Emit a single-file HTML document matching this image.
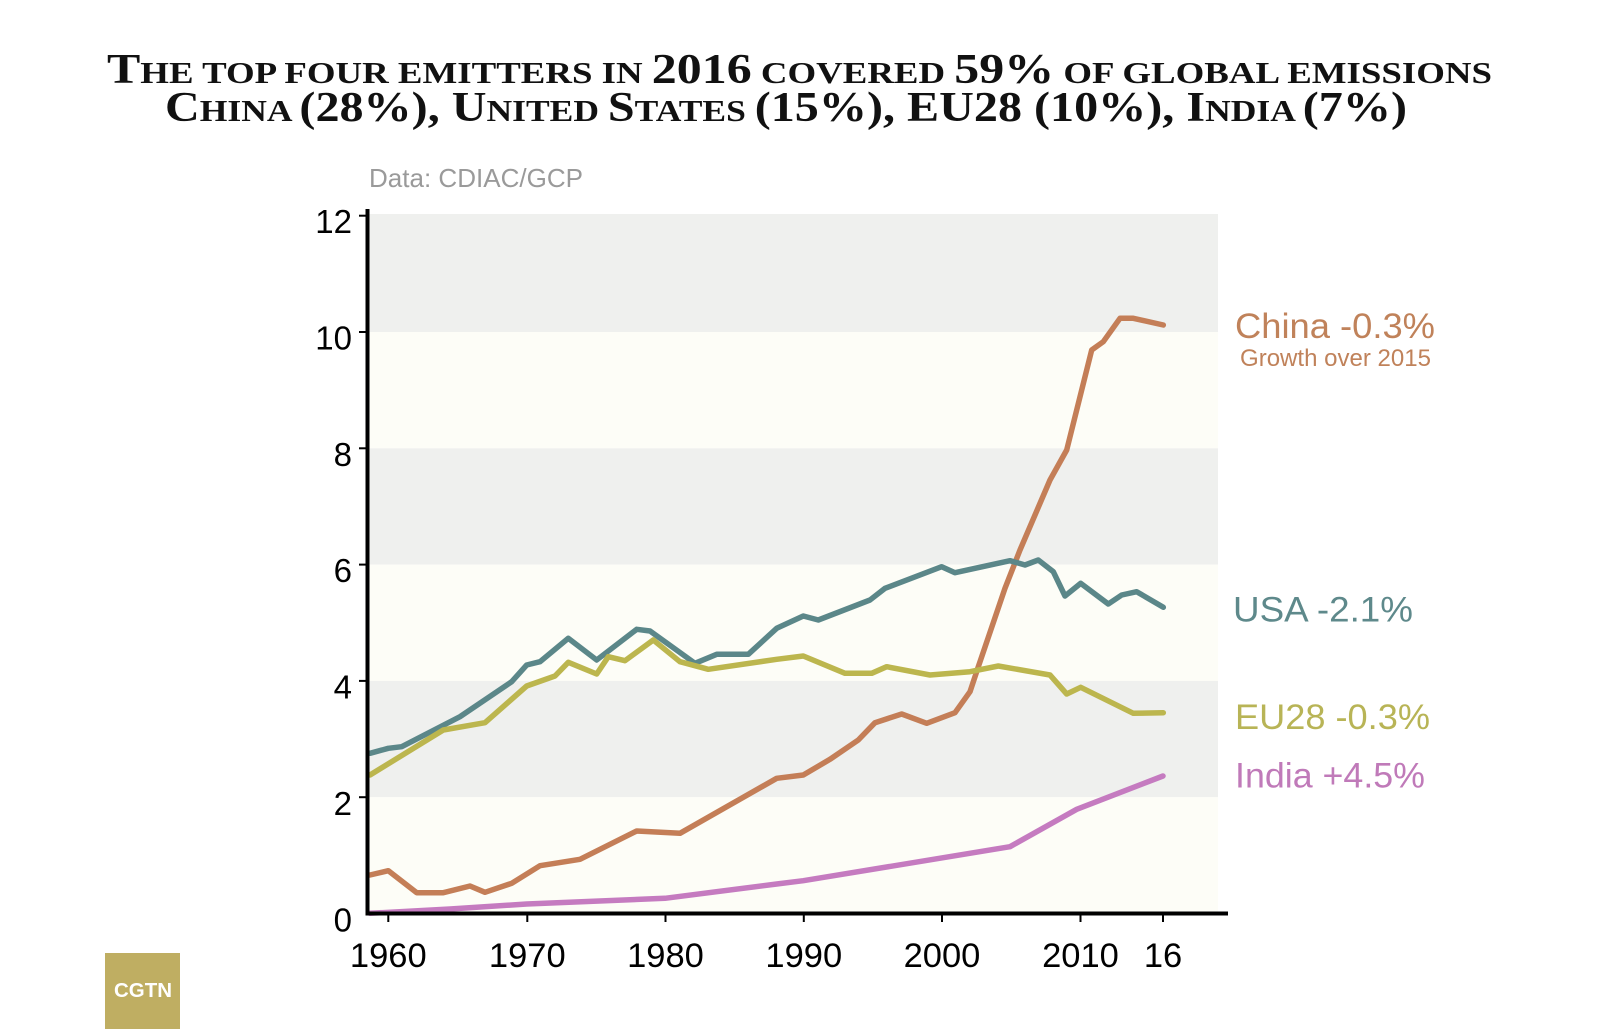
<!DOCTYPE html>
<html>
<head>
<meta charset="utf-8">
<style>
  html, body { margin:0; padding:0; background:#ffffff; }
  body { width:1600px; height:1029px; overflow:hidden; }
  svg { display:block; }
  .sans { font-family: "Liberation Sans", Arial, sans-serif; }
  .serif { font-family: "Liberation Serif", "Times New Roman", serif; font-weight:bold; }
</style>
</head>
<body>
<svg width="1600" height="1029" viewBox="0 0 1600 1029" xmlns="http://www.w3.org/2000/svg">
  <rect x="0" y="0" width="1600" height="1029" fill="#ffffff"/>

  <!-- Title -->
  <text class="serif" x="107" y="83" fill="#111" textLength="1385" lengthAdjust="spacingAndGlyphs"><tspan font-size="42">T</tspan><tspan font-size="31">HE TOP FOUR EMITTERS IN </tspan><tspan font-size="42">2016</tspan><tspan font-size="31"> COVERED </tspan><tspan font-size="42">59%</tspan><tspan font-size="31"> OF GLOBAL EMISSIONS</tspan></text>
  <text class="serif" x="165" y="121" fill="#111" textLength="1242" lengthAdjust="spacingAndGlyphs"><tspan font-size="42">C</tspan><tspan font-size="31">HINA </tspan><tspan font-size="42">(28%), U</tspan><tspan font-size="31">NITED </tspan><tspan font-size="42">S</tspan><tspan font-size="31">TATES </tspan><tspan font-size="42">(15%), EU28 (10%), I</tspan><tspan font-size="31">NDIA </tspan><tspan font-size="42">(7%)</tspan></text>

  <!-- Data source -->
  <text class="sans" x="369" y="187" font-size="26" fill="#9a9a9a" textLength="214" lengthAdjust="spacingAndGlyphs">Data: CDIAC/GCP</text>

  <!-- Background bands -->
  <rect x="369" y="214" width="849" height="118" fill="#eff0ee"/>
  <rect x="369" y="332" width="849" height="116.3" fill="#fdfdf7"/>
  <rect x="369" y="448.3" width="849" height="116.3" fill="#eff0ee"/>
  <rect x="369" y="564.6" width="849" height="116.3" fill="#fdfdf7"/>
  <rect x="369" y="680.9" width="849" height="116.3" fill="#eff0ee"/>
  <rect x="369" y="797.2" width="849" height="116.3" fill="#fdfdf7"/>

  <!-- Series -->
  <g fill="none" stroke-width="5.5" stroke-linejoin="round" stroke-linecap="round">
    <polyline stroke="#c47e57" points="370,875 388.3,870.7 416.7,892.7 443.3,892.7 470,886 485,892.3 511.7,883.3 540,865.7 555,863.3 580,859.3 636.7,831 680,833.3 776.7,778.3 803.3,775 830,759.3 858.3,740 875,722.7 901.7,714 926.7,723.3 955,712.7 970,691.7 978.3,666.7 1005,588.3 1020,550 1050,480 1066.7,450 1091.7,350 1103.3,341.7 1120,318.3 1133.3,318.3 1163.3,325"/>
    <polyline stroke="#5b8789" points="370,753.3 388.3,748.3 401.7,746.7 460,716.7 511.7,681.7 526.7,665 540,661.7 568.3,638.3 596.7,660 636.7,629.3 650,631 695,663.3 716.7,654.3 748.3,654.3 776.7,628.3 803.3,616 818.3,620 870,600 885,588.3 941.7,566.7 955,572.7 1010,560.7 1025,565 1038.3,560 1053.3,571.7 1065,596 1080.7,583.3 1108.3,604 1121.7,595 1136.7,591.7 1163.3,607.3"/>
    <polyline stroke="#bcb64e" points="370,775 443.3,730 485,722.7 526.7,686 555,676 568.3,662.3 596.7,674 608.3,656.7 625,660.7 653.3,640 680,661.7 708.3,669.3 776.7,659.3 803.3,656 845,673.3 871.7,673.3 886.7,666.7 930,675 970,671.7 998.3,666 1050,675 1066.7,694 1080.7,687.3 1133.3,713.3 1163.3,712.7"/>
    <polyline stroke="#c57bc0" points="370,913.3 450,909 526.7,904 665,898.3 776.7,884 803.3,880.7 1010,846.7 1076.7,809.3 1163,776"/>
  </g>

  <!-- Axes -->
  <line x1="367.5" y1="209" x2="367.5" y2="915.5" stroke="#000" stroke-width="4"/>
  <line x1="365.5" y1="913.5" x2="1228" y2="913.5" stroke="#000" stroke-width="4"/>
  <g stroke="#000" stroke-width="2">
    <line x1="359" y1="215.7" x2="367" y2="215.7"/>
    <line x1="359" y1="332" x2="367" y2="332"/>
    <line x1="359" y1="448.3" x2="367" y2="448.3"/>
    <line x1="359" y1="564.6" x2="367" y2="564.6"/>
    <line x1="359" y1="680.9" x2="367" y2="680.9"/>
    <line x1="359" y1="797.2" x2="367" y2="797.2"/>
    <line x1="388.3" y1="914" x2="388.3" y2="922"/>
    <line x1="527.3" y1="914" x2="527.3" y2="922"/>
    <line x1="665.5" y1="914" x2="665.5" y2="922"/>
    <line x1="803.8" y1="914" x2="803.8" y2="922"/>
    <line x1="942" y1="914" x2="942" y2="922"/>
    <line x1="1080.5" y1="914" x2="1080.5" y2="922"/>
    <line x1="1163" y1="914" x2="1163" y2="922"/>
  </g>

  <!-- Y tick labels -->
  <g class="sans" font-size="33" fill="#000" text-anchor="end">
    <text x="352" y="233">12</text>
    <text x="352" y="349.5">10</text>
    <text x="352" y="466">8</text>
    <text x="352" y="582">6</text>
    <text x="352" y="698.5">4</text>
    <text x="352" y="815">2</text>
    <text x="352" y="931.5">0</text>
  </g>

  <!-- X tick labels -->
  <g class="sans" font-size="34.5" fill="#000" text-anchor="middle">
    <text x="388.3" y="967">1960</text>
    <text x="527.3" y="967">1970</text>
    <text x="665.5" y="967">1980</text>
    <text x="803.8" y="967">1990</text>
    <text x="942" y="967">2000</text>
    <text x="1080.5" y="967">2010</text>
    <text x="1163" y="967">16</text>
  </g>

  <!-- Series labels -->
  <g class="sans">
    <text x="1235" y="338" font-size="35" fill="#c0825a" textLength="200" lengthAdjust="spacingAndGlyphs">China -0.3%</text>
    <text x="1240" y="366" font-size="24" fill="#c0825a" textLength="191" lengthAdjust="spacingAndGlyphs">Growth over 2015</text>
    <text x="1233" y="621.5" font-size="35" fill="#5e898b" textLength="180" lengthAdjust="spacingAndGlyphs">USA -2.1%</text>
    <text x="1235" y="729" font-size="35" fill="#b8b456" textLength="195" lengthAdjust="spacingAndGlyphs">EU28 -0.3%</text>
    <text x="1235" y="787.5" font-size="35" fill="#c07ab9" textLength="190" lengthAdjust="spacingAndGlyphs">India +4.5%</text>
  </g>

  <!-- Logo -->
  <rect x="105" y="953" width="75" height="76" fill="#bfae62"/>
  <text class="sans" x="114" y="997" font-size="20" font-weight="bold" fill="#ffffff" textLength="58" lengthAdjust="spacingAndGlyphs">CGTN</text>
</svg>
</body>
</html>
